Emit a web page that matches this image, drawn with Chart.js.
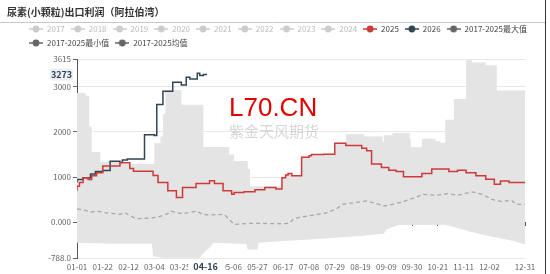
<!DOCTYPE html>
<html>
<head>
<meta charset="utf-8">
<script src="https://cdn.jsdelivr.net/npm/chart.js@4/dist/chart.umd.min.js"></script>
<style>
  body { margin: 0; background: #fff; }
  #wrap { width: 550px; height: 274px; position: relative; }
</style>
</head>
<body>
<div id="wrap"><canvas id="profitChart"></canvas></div>
<script>
// x 轴用天序（闰年 2024，01-01 = 0，12-31 = 365）
const xTickDays = [0, 21, 42, 63, 84, 105, 126, 147, 168, 189, 210, 231, 252, 273, 294, 315, 336, 365];
const yTicks = [-788, 0, 1000, 2000, 3000, 3615];
const yTickLabels = ['-788.0', '0.000', '1000', '2000', '3000', '3615'];
const oldYears = ['2017', '2018', '2019', '2020', '2021', '2022', '2023', '2024'];

// 2025
const days2025 = [0, 2, 5, 9, 12, 16, 21, 35, 43, 46, 62, 66, 74, 81, 86, 97, 108, 112, 119, 126, 128, 136, 145, 153, 162, 167, 170, 172, 175, 183, 189, 191, 201, 210, 219, 232, 236, 240, 248, 254, 260, 266, 281, 289, 303, 310, 317, 325, 333, 340, 345, 352, 358, 365];
const vals2025 = [700, 800, 880, 990, 950, 1030, 1100, 1250, 1320, 1190, 1130, 1040, 880, 700, 550, 770, 860, 920, 860, 700, 620, 660, 680, 720, 770, 740, 990, 1050, 1080, 1030, 1440, 1475, 1500, 1510, 1750, 1700, 1640, 1585, 1290, 1215, 1155, 1125, 1010, 1080, 1180, 1125, 1155, 1100, 1030, 955, 845, 918, 880, 880];

// 2026
const days2026 = [0, 5, 11, 15, 21, 27, 35, 37, 41, 55, 63, 65, 70, 78, 85, 89, 92, 98, 100, 103, 106];
const vals2026 = [880, 950, 990, 1070, 1125, 1150, 1350, 1326, 1380, 1400, 1940, 1920, 2610, 2900, 3100, 3040, 3210, 3170, 3300, 3250, 3273];

// 2017-2025 最大值
const daysMax = [0, 7, 10, 12, 19, 25, 35, 63, 68, 70, 72, 75, 85, 103, 124, 128, 139, 141, 159, 167, 170, 172, 175, 183, 189, 191, 201, 210, 219, 234, 249, 250, 257, 271, 272, 281, 292, 296, 300, 307, 317, 322, 333, 342, 356, 365];
const valsMax = [2930, 2860, 2800, 2120, 1560, 1340, 1360, 1290, 1750, 1900, 2400, 2920, 2930, 2600, 1670, 1500, 1360, 1180, 800, 800, 1000, 1060, 1090, 1040, 1450, 1480, 1510, 1520, 1760, 1950, 1900, 1780, 1930, 1980, 1840, 1660, 1850, 1800, 1760, 2270, 2730, 3585, 3540, 3475, 2920, 2920];

// 2017-2025 最小值
const daysMin = [0, 30, 61, 62, 70, 100, 104, 108, 111, 138, 139, 147, 148, 165, 190, 230, 250, 252, 262, 300, 320, 335, 350, 356, 365];
const valsMin = [-450, -470, -470, -750, -780, -780, -650, -560, -450, -480, -600, -600, -450, -420, -380, -300, -250, -160, -60, -50, -200, -300, -380, -420, -490];

// 2017-2025 均值
const daysAvg = [0, 6, 12, 16, 23, 35, 39, 45, 49, 61, 66, 74, 76, 81, 86, 92, 98, 102, 108, 120, 124, 128, 142, 167, 173, 177, 191, 204, 212, 216, 236, 244, 250, 257, 265, 279, 281, 292, 303, 310, 322, 330, 338, 346, 354, 358, 365];
const valsAvg = [300, 270, 230, 250, 215, 178, 215, 120, 82, 100, 118, 193, 250, 215, 193, 220, 250, 178, 165, 178, 67, -44, -20, -30, -20, 89, 155, 215, 311, 400, 474, 415, 363, 400, 452, 585, 622, 600, 637, 600, 674, 622, 511, 459, 490, 400, 400];

const pointerDay = 106;     // 04-16
const pointerValue = 3273;

const pts = (d, v) => d.map((x, i) => ({ x, y: v[i] }));

const mmdd = day => {
  const dt = new Date(2024, 0, 1 + day);
  return String(dt.getMonth() + 1).padStart(2, '0') + '-' + String(dt.getDate()).padStart(2, '0');
};

// 图例图标：横线 + 圆点
function legendIcon(color) {
  const c = document.createElement('canvas');
  c.width = 14; c.height = 8;
  const g = c.getContext('2d');
  g.strokeStyle = color; g.lineWidth = 1.5;
  g.beginPath(); g.moveTo(0, 4); g.lineTo(14, 4); g.stroke();
  g.fillStyle = color;
  g.beginPath(); g.arc(7, 4, 3.4, 0, Math.PI * 2); g.fill();
  return c;
}

const FONT = '"Noto Sans CJK SC", "Open Sans", sans-serif';
const NAVY = '#2f4554';
const RED = '#cc3a3a';

const decor = {
  id: 'decor',
  afterDatasetsDraw(chart) {
    const ctx = chart.ctx;
    ctx.save();
    ctx.textBaseline = 'alphabetic';
    ctx.fillStyle = '#e00000';
    ctx.font = '26px "Liberation Sans", Arial, sans-serif';
    ctx.fillText('L70.CN', 229, 116);
    ctx.fillStyle = 'rgba(175,175,175,0.5)';
    ctx.font = '15px ' + FONT;
    ctx.textBaseline = 'middle';
    ctx.fillText('紫金天风期货', 229, 131);
    ctx.restore();
  },
  afterDraw(chart) {
    const ctx = chart.ctx;
    const { x, y } = chart.scales;
    ctx.save();
    // 标题
    ctx.fillStyle = '#333';
    ctx.font = 'bold 10px ' + FONT;
    ctx.textBaseline = 'middle';
    ctx.fillText('尿素(小颗粒)出口利润（阿拉伯湾）', 7, 12);
    // 分隔线和右边框
    ctx.strokeStyle = '#c8c8c8';
    ctx.lineWidth = 1;
    ctx.beginPath(); ctx.moveTo(0, 22.5); ctx.lineTo(545, 22.5); ctx.stroke();
    ctx.strokeStyle = '#333';
    ctx.beginPath(); ctx.moveTo(545.5, 0); ctx.lineTo(545.5, 274); ctx.stroke();

    // 轴指示器标签
    ctx.font = 'bold 9px ' + FONT;
    ctx.textAlign = 'center';
    const py = y.getPixelForValue(pointerValue);
    ctx.fillStyle = '#eceef1';
    ctx.beginPath(); ctx.roundRect(50, py - 6, 23, 12, 2); ctx.fill();
    ctx.fillStyle = NAVY;
    ctx.fillText(String(pointerValue), 61.5, py);
    const px = x.getPixelForValue(pointerDay);
    ctx.fillStyle = '#fff';
    ctx.fillRect(px - 19, 260, 37, 14);
    ctx.fillStyle = NAVY;
    ctx.fillText(mmdd(pointerDay), px - 1.5, 267);
    ctx.restore();
  }
};

window.addEventListener('DOMContentLoaded', () => {
  Chart.defaults.font.family = FONT;
  Chart.defaults.font.size = 8;
  Chart.defaults.color = '#666';

  const greyDs = oldYears.map(yr => ({
    label: yr, data: [], legendColor: '#ccc', legendText: '#bbb'
  }));

  new Chart(document.getElementById('profitChart'), {
    type: 'line',
    data: {
      datasets: [
        ...greyDs,
        {
          label: '2025', data: pts(days2025, vals2025),
          borderColor: RED, borderWidth: 1.5, stepped: 'after',
          legendColor: RED, legendText: '#444'
        },
        {
          label: '2026', data: pts(days2026, vals2026),
          borderColor: NAVY, borderWidth: 1.5, stepped: 'after',
          legendColor: NAVY, legendText: '#444'
        },
        {
          label: '2017-2025最大值', data: pts(daysMax, valsMax),
          borderWidth: 0, borderColor: 'rgba(0,0,0,0)', backgroundColor: '#e4e4e4',
          fill: '+1', stepped: 'after', order: 5,
          legendColor: '#666', legendText: '#444'
        },
        {
          label: '2017-2025最小值', data: pts(daysMin, valsMin),
          borderWidth: 0, borderColor: 'rgba(0,0,0,0)', order: 5,
          legendColor: '#666', legendText: '#444'
        },
        {
          label: '2017-2025均值', data: pts(daysAvg, valsAvg),
          borderColor: '#a8a8a8', borderWidth: 1.3, borderDash: [4, 3],
          legendColor: '#666', legendText: '#444'
        }
      ]
    },
    options: {
      responsive: true,
      maintainAspectRatio: false,
      animation: false,
      layout: { padding: { top: 19, left: 23, right: 5, bottom: 0 } },
      elements: { point: { radius: 0 } },
      plugins: {
        tooltip: { enabled: false },
        legend: {
          position: 'top',
          align: 'start',
          labels: {
            usePointStyle: true,
            pointStyleWidth: 14,
            padding: 6,
            font: { size: 8 },
            generateLabels: chart => chart.data.datasets.map((ds, i) => ({
              text: ds.label,
              fontColor: ds.legendText,
              pointStyle: legendIcon(ds.legendColor),
              fillStyle: ds.legendColor,
              strokeStyle: ds.legendColor,
              lineWidth: 0,
              hidden: false,
              datasetIndex: i
            }))
          }
        }
      },
      scales: {
        x: {
          type: 'linear', min: 0, max: 365,
          afterBuildTicks: s => { s.ticks = xTickDays.map(v => ({ value: v })); },
          afterFit: s => { s.height = 16; },
          grid: { display: false, drawTicks: false },
          border: { display: false },
          ticks: { autoSkip: false, maxRotation: 0, padding: 4, color: '#666', callback: v => mmdd(v) }
        },
        xZero: {
          type: 'linear', min: 0, max: 365, position: { y: 0 },
          afterBuildTicks: s => { s.ticks = xTickDays.map(v => ({ value: v })); },
          grid: { drawOnChartArea: false, tickLength: 3, tickColor: '#555' },
          border: { color: '#555', width: 1 },
          ticks: { display: false }
        },
        xTop: {
          type: 'linear', position: 'top', display: true,
          afterFit: s => { s.height = 2; },
          grid: { display: false, drawTicks: false },
          border: { display: false },
          ticks: { display: false }
        },
        y: {
          min: -788, max: 3615,
          afterBuildTicks: s => { s.ticks = yTicks.map(v => ({ value: v })); },
          afterFit: s => { s.width = 54; },
          grid: { color: '#e8e8e8', tickLength: 4, tickColor: '#666' },
          border: { color: '#555', width: 1 },
          ticks: {
            padding: 2, color: '#666',
            callback: v => yTickLabels[yTicks.indexOf(v)]
          }
        },
        yRight: {
          type: 'linear', position: 'right', display: true,
          afterFit: s => { s.width = 20; },
          grid: { display: false, drawTicks: false },
          border: { display: false },
          ticks: { display: false }
        }
      }
    },
    plugins: [decor]
  });
});
</script>
</body>
</html>
